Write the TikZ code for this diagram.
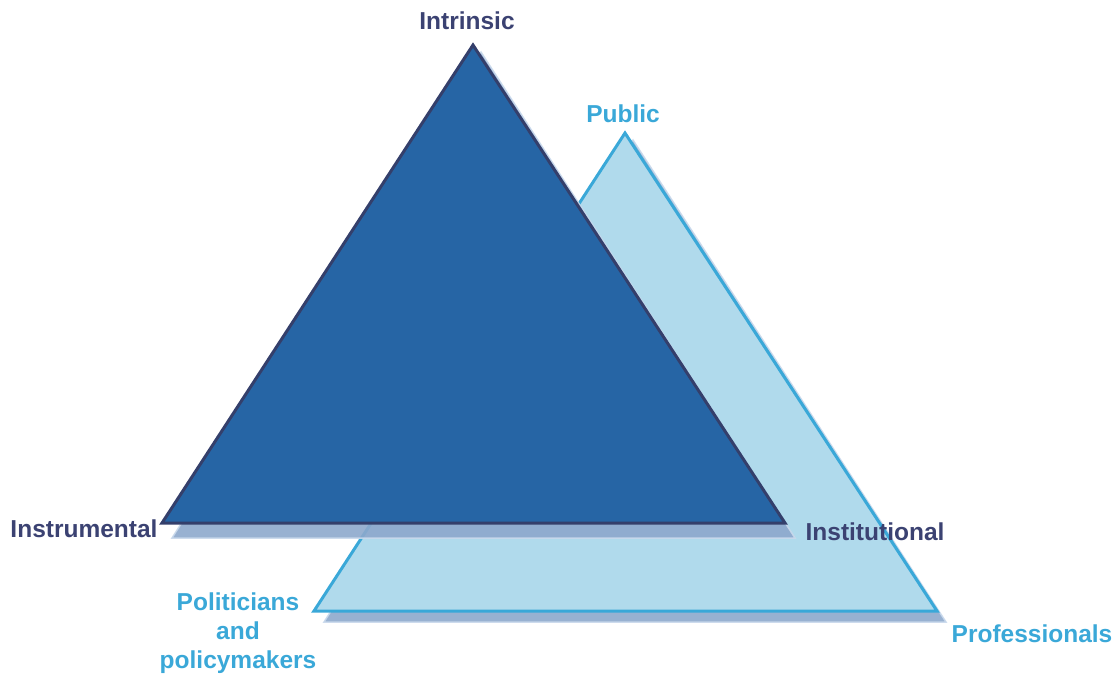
\documentclass[tikz,border=0pt]{standalone}
\usepackage{fontspec}
\setmainfont{Liberation Sans}
\definecolor{darkfill}{HTML}{2665A5}
\definecolor{darkline}{HTML}{343F6B}
\definecolor{lightfill}{HTML}{B0DAEC}
\definecolor{lightline}{HTML}{3AA8D8}
\definecolor{shadowfill}{HTML}{8DA8CC}
\definecolor{shadowline}{HTML}{C9D9EC}
\definecolor{darktext}{HTML}{3B4272}
\definecolor{lighttext}{HTML}{3AA8D8}
\begin{document}
\begin{tikzpicture}[x=1pt,y=-1pt,
  lbl/.style={font=\fontsize{24.5}{29}\selectfont\bfseries, inner sep=0pt, align=center},
  darklbl/.style={lbl, text=darktext},
  lightlbl/.style={lbl, text=lighttext},
  shadowtri/.style={fill=shadowfill, draw=shadowline, line width=1.5pt, line join=miter, opacity=0.9},
  darktri/.style={fill=darkfill, draw=darkline, line width=3pt, line join=miter},
  lighttri/.style={fill=lightfill, draw=lightline, line width=3pt, line join=miter}]
\useasboundingbox (0,0) rectangle (1119,675);
% light triangle
\coordinate (LA) at (625,133);
\coordinate (LB) at (314,611);
\coordinate (LC) at (937,611);
\coordinate (LSA) at (633,140);
\coordinate (LSB) at (324,622);
\coordinate (LSC) at (946,622);
% dark triangle
\coordinate (DA) at (473,45);
\coordinate (DB) at (162,523);
\coordinate (DC) at (785,523);
\coordinate (DSA) at (481,52);
\coordinate (DSB) at (172,538);
\coordinate (DSC) at (795,538);
\draw[shadowtri] (LSA) -- (LSB) -- (LSC) -- cycle;
\draw[lighttri] (LA) -- (LB) -- (LC) -- cycle;
\draw[shadowtri] (DSA) -- (DSB) -- (DSC) -- cycle;
\draw[darktri] (DA) -- (DB) -- (DC) -- cycle;
% labels
\node[darklbl] (intrinsic) at (467,21) {Intrinsic};
\node[darklbl] (instrumental) at (84,529) {Instrumental};
\node[darklbl] (institutional) at (875,532) {Institutional};
\node[lightlbl] (public) at (623,114) {Public};
\node[lightlbl] (politicians) at (238,633) {Politicians\\and\\policymakers};
\node[lightlbl] (professionals) at (1032,634) {Professionals};
\end{tikzpicture}
\end{document}
